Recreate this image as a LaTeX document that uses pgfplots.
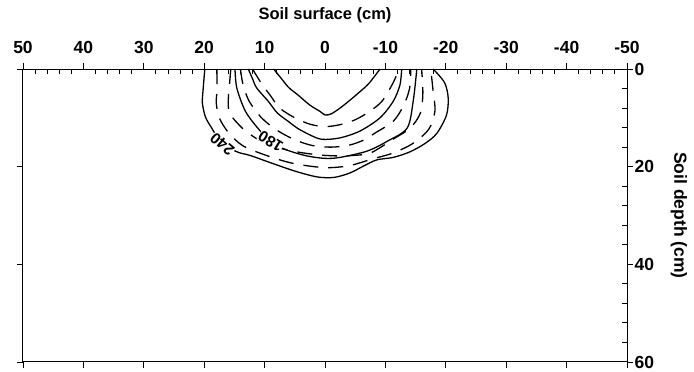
\documentclass[border=0pt]{standalone}
\usepackage{pgfplots}
\pgfplotsset{compat=1.18}
\usepackage{fontspec}
\setmainfont{Liberation Sans}
\begin{document}
\begin{tikzpicture}
\useasboundingbox (-23pt,-10pt) rectangle (671pt,362pt);
\begin{axis}[
  at={(0,0)}, anchor=south west,
  scale only axis, width=604pt, height=293pt,
  xmin=-50, xmax=50, ymin=-60, ymax=0,
  axis line style={line width=1pt},
  xtick={-50,-40,...,50},
  xticklabels={50,40,30,20,10,0,-10,-20,-30,-40,-50},
  ytick={-60,-40,-20,0},
  yticklabels={60,40,20,0},
  xticklabel pos=upper, yticklabel pos=right,
  tick align=outside,
  major tick length=6pt,
  tick style={black, line width=0.9pt},
  ticklabel style={font=\fontsize{17.5}{17.5}\selectfont\bfseries},
  xticklabel style={yshift=6pt},
  yticklabel style={xshift=-2pt},
  clip=false,
]
\addplot[black, line width=1.3pt, smooth] coordinates {(-8.5,0) (-7.2,-2) (-6.0,-3.8) (-4.5,-5.3) (-2.5,-7.4) (-0.8,-8.7) (0,-9.4) (1,-9.2) (2.5,-8.0) (4.6,-5.9) (7.0,-3.3) (8.2,-1.5) (9.1,0)};
\addplot[black, line width=1.3pt, smooth, dash pattern=on 15pt off 10pt] coordinates {(-12,0) (-10.5,-3) (-9,-5.5) (-7.5,-8) (-5,-10) (-2.5,-11.3) (0,-11.8) (2.5,-11.4) (5,-10.4) (7.5,-8.6) (9.5,-6.5) (11.2,-3) (12.3,0)};
\addplot[black, line width=1.3pt, smooth] coordinates {(-12.7,0) (-12,-2) (-11.3,-3.9) (-9.4,-6.6) (-7.9,-9) (-6,-10.8) (-4.6,-12.1) (-2.5,-13.5) (-0.5,-14.4) (2.5,-14.1) (5.8,-12.7) (9.1,-10) (11.3,-6.6) (12.4,-3.3) (12.7,0)};
\addplot[black, line width=1.3pt, smooth, dash pattern=on 15pt off 10pt] coordinates {(-14,0) (-13.6,-3) (-12.6,-6.5) (-10.5,-10) (-8,-12.5) (-5,-14.5) (-2,-15.7) (1,-16) (4,-15.6) (6.5,-14.5) (8.3,-13.1) (11.3,-10.7) (13,-7.5) (14,-4) (14.2,0)};
\addplot[black, line width=1.3pt, smooth] coordinates {(-14.9,0) (-14.6,-3.9) (-13.2,-8.6) (-11.2,-12) (-8.9,-15) (-6.3,-16.6) (-3,-17.8) (0,-18.3) (2.5,-18.1) (7,-16.8) (10.3,-14.8) (13.6,-12.1) (14.6,-6.6) (15.2,0)};
\addplot[black, line width=1.3pt, smooth, dash pattern=on 15pt off 10pt] coordinates {(-15.6,0) (-15.8,-3) (-16,-6) (-15.8,-9) (-13.7,-12.1) (-11,-14.5) (-8,-16) (-5,-16.9) (-1,-17.6) (3,-17.8) (7,-17.4) (9,-16.2) (11.1,-14.5) (14.1,-12.1) (15.8,-9) (16.2,-5) (16,0)};
\addplot[black, line width=1.3pt, smooth, dash pattern=on 15pt off 10pt] coordinates {(-17.9,0) (-17.9,-4.5) (-18,-7) (-17.5,-10) (-16,-13) (-13.5,-15.8) (-9,-18) (-5,-19.4) (0,-20.2) (4,-19.8) (7.9,-18.4) (11.3,-17.2) (14.6,-15.2) (17.2,-12.3) (18.2,-8.6) (17.9,-4.5) (17.5,0)};
\addplot[black, line width=1.3pt, smooth] coordinates {(-19.9,0) (-20.2,-4.5) (-20.3,-7) (-19.8,-9.8) (-18.8,-12) (-17.1,-15.2) (-14.5,-17) (-12.4,-17.7) (-9,-19.2) (-5,-20.9) (-1.3,-22.1) (1.5,-22.2) (4.1,-21.3) (6.5,-19.8) (8.6,-18.6) (11.3,-18.1) (14,-17) (16.5,-15.3) (18.5,-13.2) (20.1,-9.5) (20.4,-6) (19.8,-2.8) (17.9,0)};
\node[rotate=140, fill=white, inner sep=0.3pt, font=\fontsize{15.5}{15.5}\selectfont\bfseries] at (axis cs:-17,-15.4) {240};
\node[rotate=148, fill=white, inner sep=0.3pt, font=\fontsize{15.5}{15.5}\selectfont\bfseries] at (axis cs:-9.0,-14.8) {180};
\node[font=\fontsize{16.5}{16.5}\selectfont\bfseries] at (rel axis cs:0.5,1) [yshift=54pt] {Soil surface (cm)};
\node[xshift=52pt, rotate=-90, font=\fontsize{17.5}{17.5}\selectfont\bfseries] at (rel axis cs:1,0.5) {Soil depth (cm)};
\end{axis}
\begin{axis}[
  at={(0,0)}, anchor=south west,
  scale only axis, width=604pt, height=293pt,
  xmin=-50, xmax=50, ymin=-60, ymax=0,
  axis x line*=top, axis y line*=right,
  axis line style={draw=none},
  xtick={-48,-46,-44,-42,-38,-36,-34,-32,-28,-26,-24,-22,-18,-16,-14,-12,-8,-6,-4,-2,2,4,6,8,12,14,16,18,22,24,26,28,32,34,36,38,42,44,46,48},
  ytick={-56,-52,-48,-44,-36,-32,-28,-24,-16,-12,-8,-4},
  xticklabels={}, yticklabels={},
  tick align=inside,
  major tick length=5pt,
  tick style={black, line width=0.9pt},
]
\end{axis}
\end{tikzpicture}
\end{document}
